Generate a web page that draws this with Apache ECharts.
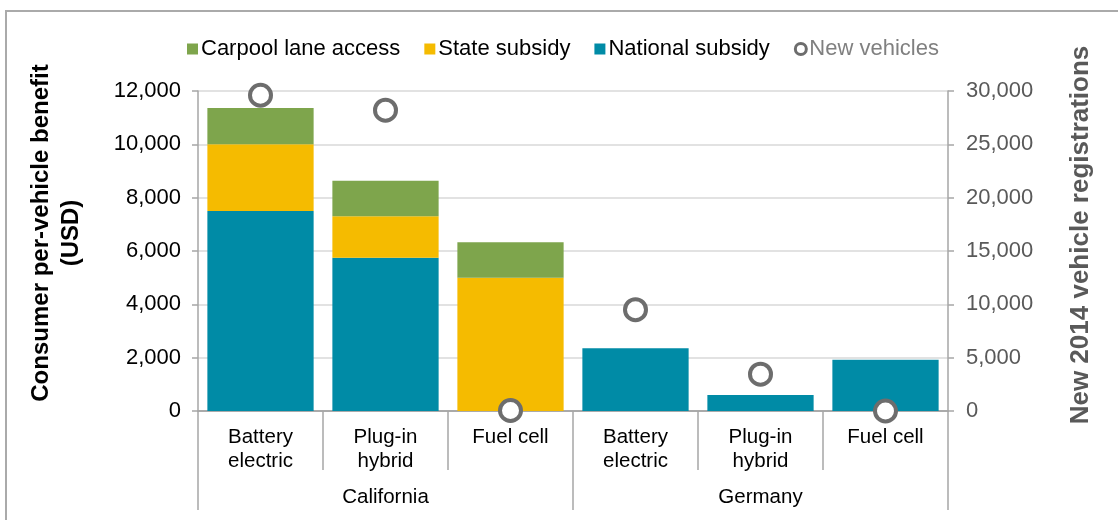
<!DOCTYPE html>
<html>
<head>
<meta charset="utf-8">
<script src="https://cdn.jsdelivr.net/npm/echarts@6/dist/echarts.min.js"></script>
<style>
  html, body { margin: 0; padding: 0; background: #fff; }
  #chart { width: 1118px; height: 520px; }
</style>
</head>
<body>
<div id="chart"></div>
<script>
const categories = ['Battery\nelectric', 'Plug-in\nhybrid', 'Fuel cell', 'Battery\nelectric', 'Plug-in\nhybrid', 'Fuel cell']
const regions = ['California', 'Germany']
const nationalSubsidy = [7500, 5750, 0, 2350, 600, 1925]
const stateSubsidy = [2500, 1550, 5000, 0, 0, 0]
const carpoolAccess = [1360, 1330, 1330, 0, 0, 0]
const newVehicles = [29600, 28200, 50, 9500, 3450, 0]

const leftTicks = { min: 0, max: 12000, interval: 2000 }
const rightTicks = { min: 0, max: 30000, interval: 5000 }

const font = '"Liberation Sans", Arial, Helvetica, sans-serif'
const axisGray = '#a6a6a6'

const chart = echarts.init(document.getElementById('chart'))

function fmt(v) {
    return v.toLocaleString('en-US')
}

const option = {
    animation: false,
    textStyle: { fontFamily: font },
    grid: { left: 198, right: 170, top: 91, bottom: 109 },
    legend: {
        left: 182,
        top: 33,
        itemWidth: 11,
        itemHeight: 11,
        itemGap: 24,
        textStyle: { fontSize: 22, color: '#000', fontFamily: font, padding: [0, 0, 0, -2] },
        data: [
            { name: 'Carpool lane access', icon: 'rect' },
            { name: 'State subsidy', icon: 'rect' },
            { name: 'National subsidy', icon: 'rect' },
            { name: 'New vehicles', icon: 'circle', textStyle: { color: '#808080' },
              itemStyle: { color: '#fff', borderColor: '#6d6d6d', borderWidth: 3 } }
        ]
    },
    graphic: [
        {
            type: 'polyline',
            shape: { points: [[6, 520], [6, 11], [1118, 11]] },
            style: { stroke: '#aaaaaa', lineWidth: 2, fill: null }
        }
    ],
    xAxis: [
        {
            type: 'category',
            data: categories,
            position: 'bottom',
            axisLine: { lineStyle: { color: axisGray, width: 1.5 } },
            axisTick: { show: true, interval: 0, length: 59, lineStyle: { color: axisGray, width: 1.5 } },
            axisLabel: { interval: 0, margin: 14, fontSize: 20.5, lineHeight: 24, color: '#000', fontFamily: font }
        },
        {
            type: 'category',
            data: regions,
            position: 'bottom',
            axisLine: { lineStyle: { color: axisGray, width: 1.5 } },
            axisTick: { show: true, interval: 0, length: 99, lineStyle: { color: axisGray, width: 1.5 } },
            axisLabel: { interval: 0, margin: 76, fontSize: 20.5, color: '#000', fontFamily: font }
        }
    ],
    yAxis: [
        {
            type: 'value',
            min: leftTicks.min,
            max: leftTicks.max,
            interval: leftTicks.interval,
            name: 'Consumer per-vehicle benefit\n(USD)',
            nameLocation: 'middle',
            nameRotate: 90,
            nameGap: 112,
            nameTextStyle: { fontSize: 24, fontWeight: 'bold', color: '#000', lineHeight: 30,
                             fontFamily: font, padding: [0, 0, 0, 36] },
            axisLine: { show: true, lineStyle: { color: axisGray, width: 1.5 } },
            axisTick: { show: true, length: 6, lineStyle: { color: axisGray, width: 1.5 } },
            axisLabel: { fontSize: 22, color: '#000', margin: 17, formatter: fmt, fontFamily: font },
            splitLine: { lineStyle: { color: '#d9d9d9', width: 1.5 } }
        },
        {
            type: 'value',
            position: 'right',
            min: rightTicks.min,
            max: rightTicks.max,
            interval: rightTicks.interval,
            name: 'New 2014 vehicle registrations',
            nameLocation: 'middle',
            nameRotate: 90,
            nameGap: 120,
            nameTextStyle: { fontSize: 26, fontWeight: 'bold', color: '#595959',
                             fontFamily: font, padding: [0, 0, 0, 32] },
            axisLine: { show: true, lineStyle: { color: axisGray, width: 1.5 } },
            axisTick: { show: true, length: 6, lineStyle: { color: axisGray, width: 1.5 } },
            axisLabel: { fontSize: 22, color: '#595959', margin: 18, formatter: fmt, fontFamily: font },
            splitLine: { show: false }
        }
    ],
    series: [
        {
            name: 'National subsidy',
            type: 'bar',
            stack: 'benefit',
            barCategoryGap: '15%',
            itemStyle: { color: '#008ba6' },
            data: nationalSubsidy
        },
        {
            name: 'State subsidy',
            type: 'bar',
            stack: 'benefit',
            itemStyle: { color: '#f5bb00' },
            data: stateSubsidy
        },
        {
            name: 'Carpool lane access',
            type: 'bar',
            stack: 'benefit',
            itemStyle: { color: '#7ea54c' },
            data: carpoolAccess
        },
        {
            name: 'New vehicles',
            type: 'scatter',
            yAxisIndex: 1,
            symbol: 'circle',
            symbolSize: 21,
            z: 5,
            itemStyle: { color: '#fff', borderColor: '#6d6d6d', borderWidth: 4, opacity: 1 },
            data: newVehicles
        }
    ]
}

chart.setOption(option)
</script>
</body>
</html>
